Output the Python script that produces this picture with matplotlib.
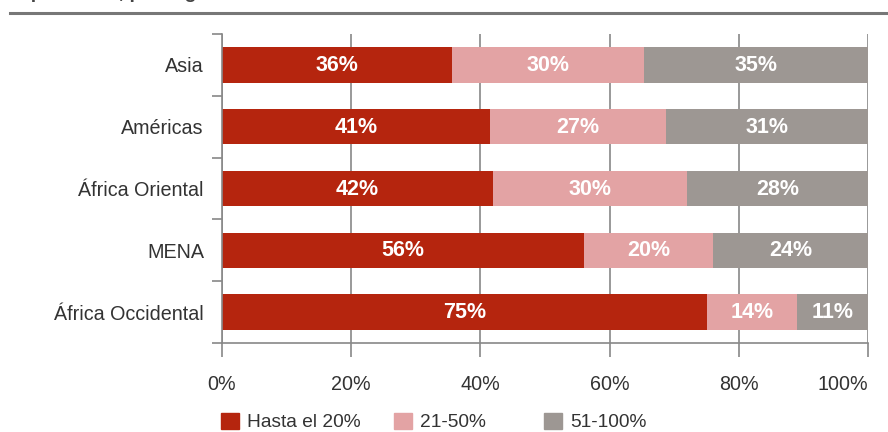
import numpy as np
import matplotlib.pyplot as plt
from matplotlib.patches import Patch

plt.rcParams['font.family'] = ['Liberation Sans', 'DejaVu Sans']

# datos por región (porcentajes)
regiones = ['Asia', 'Américas', 'África Oriental', 'MENA', 'África Occidental']
hasta_20 = [36, 41, 42, 56, 75]
de_21_50 = [30, 27, 30, 20, 14]
de_51_100 = [35, 31, 28, 24, 11]
series = ['Hasta el 20%', '21-50%', '51-100%']
colores = ['#B5250E', '#E3A3A4', '#9D9793']

vals = np.array([hasta_20, de_21_50, de_51_100], dtype=float)
totales = vals.sum(axis=0)
partes = vals / totales * 100  # cada barra suma 100

fig = plt.figure(figsize=(8.88, 4.32), dpi=100)
ax = fig.add_axes([222 / 888, 1 - 343 / 432, 646 / 888, 309 / 432])

y = np.arange(len(regiones))
izq = np.zeros(len(regiones))
for i in range(3):
    ax.barh(y, partes[i], left=izq, height=0.57, color=colores[i],
            label=series[i], zorder=2)
    for j in range(len(regiones)):
        ax.text(izq[j] + partes[i][j] / 2, y[j] + 0.01, '%d%%' % vals[i][j],
                ha='center', va='center', color='white', fontsize=15.5,
                fontweight='bold', zorder=3)
    izq += partes[i]

ax.set_xlim(0, 100)
ax.set_ylim(len(regiones) - 0.5, -0.5)
ax.set_xticks(np.arange(0, 101, 20))
ax.set_xticklabels(['%d%%' % v for v in range(0, 101, 20)], fontsize=14.2, color='#333333')
ax.set_yticks(y)
ax.set_yticklabels(regiones, fontsize=14.2, color='#333333')
ax.set_yticks(np.arange(-0.5, len(regiones), 1), minor=True)
ax.tick_params(axis='y', which='major', length=0, pad=13)
ax.tick_params(axis='y', which='minor', length=7, width=1.2, color='#888888')
ax.tick_params(axis='x', length=10, width=1.2, color='#888888', pad=13)
ax.grid(axis='x', color='#888888', linewidth=1.2, zorder=0)
for s in ['top', 'right']:
    ax.spines[s].set_visible(False)
for s in ['left', 'bottom']:
    ax.spines[s].set_color('#888888')
    ax.spines[s].set_linewidth(1.2)
ax.get_xticklabels()[-1].set_ha('right')
ax.get_xticklabels()[-1].set_x(100)

# título (solo se ven los trazos inferiores) y línea superior
fig.text(8 / 888, 1 + 1.5 / 432, 'Importancia, por región', fontsize=14,
         fontweight='bold', color='#444444', va='baseline')
fig.add_artist(plt.Line2D([10 / 888, 1], [1 - 13 / 432] * 2, color='#777777',
                          linewidth=2.2))

# leyenda: cada entrada en su propia posición
x_leyenda = [204, 377, 527]
for i in range(3):
    leg = fig.legend(handles=[Patch(color=colores[i], label=series[i])],
                     loc='center left', bbox_to_anchor=(x_leyenda[i] / 888, 1 - 422 / 432),
                     frameon=False, fontsize=13.8, handlelength=0.9, handleheight=0.9,
                     handletextpad=0.45)
    for t in leg.get_texts():
        t.set_color('#333333')

fig.savefig('out.png', dpi=100)
